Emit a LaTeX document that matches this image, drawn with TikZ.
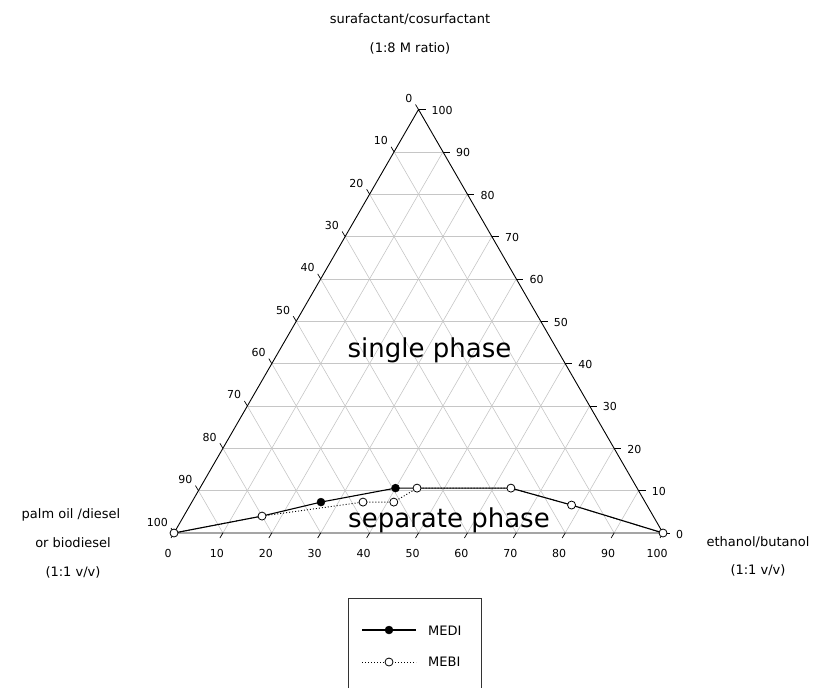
\documentclass[tikz,border=0pt]{standalone}
\usepackage{fontspec}
\setmainfont{DejaVu Sans}

\begin{document}
\begin{tikzpicture}[x=1pt,y=-1pt,
  gridline/.style={gray!45, line width=0.6pt},
  axisline/.style={black, line width=0.9pt},
  tickline/.style={black, line width=0.7pt},
  ticklabel/.style={font=\fontsize{11}{13}\selectfont, inner sep=0pt},
  axislabel/.style={font=\fontsize{13}{15}\selectfont, inner sep=0pt},
  phaselabel/.style={font=\fontsize{26}{30}\selectfont, inner sep=0pt, anchor=base},
  medi/.style={black, line width=1.1pt},
  mebi/.style={black, line width=0.9pt, dash pattern=on 1pt off 2pt},
  fullmark/.style={circle, fill=black, draw=black, inner sep=0pt, minimum size=8pt},
  openmark/.style={circle, fill=white, draw=black, line width=0.8pt, inner sep=0pt, minimum size=8pt}]
\useasboundingbox (0,0) rectangle (818,688);
% corners of the ternary triangle
\coordinate (L) at (174,533);
\coordinate (R) at (663,533);
\coordinate (T) at (418.5,109.5);
% grid (weights as fractions)
\foreach \i [evaluate=\i as \a using \i/100, evaluate=\i as \b using 1-\i/100] in {10,20,...,90} {
  \draw[gridline] (barycentric cs:L=\b,T=\a) -- (barycentric cs:R=\b,T=\a);
  \draw[gridline] (barycentric cs:L=\b,R=\a) -- (barycentric cs:T=\b,R=\a);
  \draw[gridline] (barycentric cs:L=\a,R=\b) -- (barycentric cs:L=\a,T=\b);
}
\draw[axisline] (L) -- (R) -- (T) -- cycle;
% ticks and tick labels
\foreach \i [evaluate=\i as \a using \i/100, evaluate=\i as \b using 1-\i/100] in {0,10,...,100} {
  % bottom: ethanol/butanol
  \draw[tickline] (barycentric cs:L=\b,R=\a) -- ++(-3,5);
  \path (barycentric cs:L=\b,R=\a) ++(-6,20) node[ticklabel] (bot\i) {\i};
  % left: palm oil
  \draw[tickline] (barycentric cs:L=\a,T=\b) -- ++(-3,-5);
  \path (barycentric cs:L=\a,T=\b) ++(-6,-11) node[ticklabel, anchor=east] (lft\i) {\i};
  % right: surfactant
  \draw[tickline] (barycentric cs:R=\b,T=\a) -- ++(7,0);
  \path (barycentric cs:R=\b,T=\a) ++(13,1) node[ticklabel, anchor=west] (rgt\i) {\i};
}
% data points
\coordinate (m1) at (L);
\coordinate (m2) at (barycentric cs:L=0.80,R=0.16,T=0.04);
\coordinate (m3) at (barycentric cs:L=0.663,R=0.264,T=0.073);
\coordinate (m4) at (barycentric cs:L=0.494,R=0.40,T=0.106);
\coordinate (m5) at (barycentric cs:L=0.45,R=0.444,T=0.106);
\coordinate (m6) at (barycentric cs:L=0.258,R=0.636,T=0.106);
\coordinate (m7) at (barycentric cs:L=0.154,R=0.78,T=0.066);
\coordinate (m8) at (R);
\coordinate (e3) at (barycentric cs:L=0.577,R=0.35,T=0.073);
\coordinate (e4) at (barycentric cs:L=0.514,R=0.413,T=0.073);
\draw[mebi] (m1) -- (m2) -- (e3) -- (e4) -- (m5) -- (m6) -- (m7) -- (m8);
\draw[medi] (m1) -- (m2) -- (m3) -- (m4) -- (m5) -- (m6) -- (m7) -- (m8);
\foreach \p in {m3,m4}
  \node[fullmark] (dot\p) at (\p) {};
\foreach \p in {m1,m2,e3,e4,m5,m6,m7,m8}
  \node[openmark] (dot\p) at (\p) {};
% phase regions
\node[phaselabel] (single) at (429.5,357) {single phase};
\node[phaselabel] (separate) at (449,527) {separate phase};
% component names
\node[axislabel] (topname) at (410,19) {surafactant/cosurfactant};
\node[axislabel] (topratio) at (410,48) {(1:8 M ratio)};
\node[axislabel] (oilname) at (71,515) {palm oil /diesel};
\node[axislabel] (oilname2) at (73,543) {or biodiesel};
\node[axislabel] (oilratio) at (73,572) {(1:1 v/v)};
\node[axislabel] (ethname) at (758,542) {ethanol/butanol};
\node[axislabel] (ethratio) at (758,570) {(1:1 v/v)};
% legend
\draw[line width=1pt, black!80] (348,688) |- (481,598) -- (481,688);
\coordinate (k1a) at (362,630);
\coordinate (k1b) at (416,630);
\draw[medi] (k1a) -- (k1b);
\node[fullmark] (k1) at (389,630) {};
\node[axislabel, anchor=west] (medilabel) at (428,631) {MEDI};
\coordinate (k2a) at (362,662);
\coordinate (k2b) at (416,662);
\draw[mebi] (k2a) -- (k2b);
\node[openmark] (k2) at (389,662) {};
\node[axislabel, anchor=west] (mebilabel) at (428,662) {MEBI};
\end{tikzpicture}
\end{document}
